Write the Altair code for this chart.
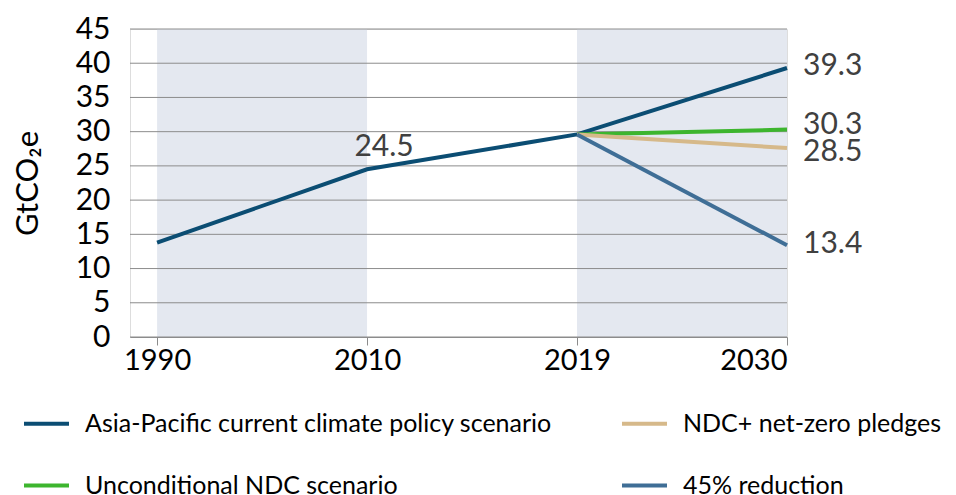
import altair as alt
import pandas as pd

years = ["1990", "2010", "2019", "2030"]
series_names = [
    "Asia-Pacific current climate policy scenario",
    "Unconditional NDC scenario",
    "NDC+ net-zero pledges",
    "45% reduction",
]
series_colors = ["#0b4d73", "#3db52e", "#d6b98a", "#3f6e96"]

current_policy = [13.8, 24.5, 29.6, 39.3]        # 1990, 2010, 2019, 2030
unconditional_ndc = [None, None, 29.6, 30.3]
ndc_net_zero = [None, None, 29.6, 27.6]
reduction_45 = [None, None, 29.6, 13.4]

end_labels = ["39.3", "30.3", "28.5", "13.4"]
end_label_y = [39.6, 31.0, 27.0, 13.6]
mid_label = ["24.5"]
mid_label_y = [27.8]

y_ticks = [0, 5, 10, 15, 20, 25, 30, 35, 40, 45]
bands = pd.DataFrame({"x0": [0, 2], "x1": [1, 3]})

rows = []
for name, vals in zip(series_names, [current_policy, unconditional_ndc, ndc_net_zero, reduction_45]):
    for i, v in enumerate(vals):
        if v is not None:
            rows.append({"series": name, "i": i, "value": v})
lines_df = pd.DataFrame(rows)

W, H = 657, 308
xscale = alt.Scale(domain=[-0.129, 3], nice=False, zero=False)
yscale = alt.Scale(domain=[0, 45], nice=False)
FONT = "Lato"

y_axis = alt.Axis(values=y_ticks, title="GtCO₂e", grid=False, domain=False, ticks=False,
                  labelFontSize=30, labelColor="#000000", labelFont=FONT, labelPadding=20,
                  labelOverlap=False,
                  titleFontSize=31, titleFont=FONT, titleFontWeight="normal",
                  titleColor="#000000", titlePadding=31)

band_layer = alt.Chart(bands).mark_rect(color="#e4e8f0").encode(
    x=alt.X("x0:Q", scale=xscale,
            axis=alt.Axis(values=[0, 1, 2, 3],
                          labelExpr="['1990','2010','2019','2030'][datum.value]",
                          title=None, grid=False, domain=True, domainColor="#8c8c8c",
                          ticks=True, tickColor="#8c8c8c", tickSize=8,
                          labelFontSize=29, labelColor="#000000", labelFont=FONT,
                          labelPadding=1, labelOverlap=False)),
    x2="x1:Q",
    y=alt.YDatum(0, scale=yscale, axis=y_axis),
    y2=alt.datum(45),
)

grid_layer = alt.Chart(pd.DataFrame({"v": y_ticks})).mark_rule(color="#8c8c8c", strokeWidth=1).encode(
    y=alt.Y("v:Q", scale=yscale, axis=y_axis),
    x=alt.value(0),
    x2=alt.value(W),
)

line_layer = alt.Chart(lines_df).mark_line(strokeWidth=4).encode(
    x=alt.X("i:Q", scale=xscale),
    y=alt.Y("value:Q", scale=yscale, axis=y_axis),
    color=alt.Color("series:N",
                    scale=alt.Scale(domain=series_names, range=series_colors),
                    sort=series_names,
                    legend=alt.Legend(orient="none", legendX=-108, legendY=370, columns=2,
                                      title=None, symbolType="stroke", symbolStrokeWidth=4,
                                      symbolSize=2025, labelFontSize=25, labelFont=FONT,
                                      labelColor="#000000", columnPadding=62, rowPadding=24,
                                      labelOffset=14, labelLimit=700)),
    detail="series:N",
    order=alt.Order("i:Q"),
)

end_df = pd.DataFrame({"i": [3] * 4, "y": end_label_y, "t": end_labels})
end_text = alt.Chart(end_df).mark_text(align="left", baseline="middle", dx=16, fontSize=30,
                                       font=FONT, color="#404040").encode(
    x=alt.X("i:Q", scale=xscale), y=alt.Y("y:Q", scale=yscale, axis=y_axis), text="t:N")

mid_df = pd.DataFrame({"i": [1], "y": mid_label_y, "t": mid_label})
mid_text = alt.Chart(mid_df).mark_text(align="center", baseline="middle", dx=17, fontSize=30,
                                       font=FONT, color="#404040").encode(
    x=alt.X("i:Q", scale=xscale), y=alt.Y("y:Q", scale=yscale, axis=y_axis), text="t:N")

chart = alt.layer(band_layer, grid_layer, line_layer, end_text, mid_text).properties(
    width=W, height=H,
    autosize=alt.AutoSizeParams(type="none"),
    padding={"left": 122, "top": 21, "right": 161, "bottom": 170},
).configure_view(stroke=None).configure(font=FONT).configure_axisY(labelOverlap=False)

chart.save("out.html", embed_options={"renderer": "svg", "actions": False})
